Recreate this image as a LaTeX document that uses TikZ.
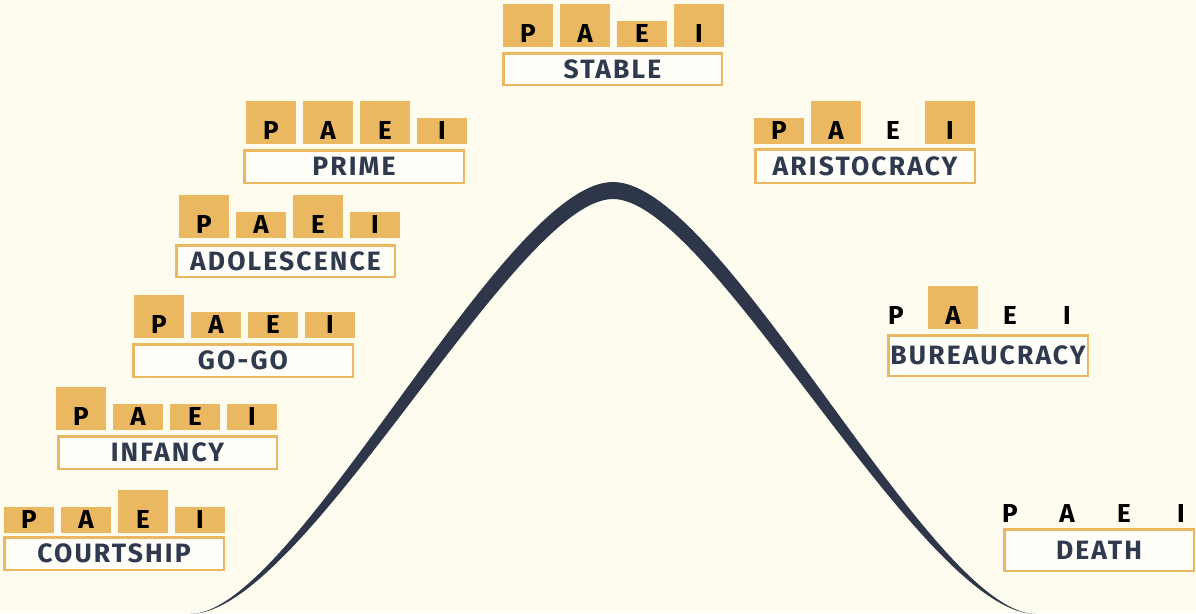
\documentclass[tikz,border=0pt]{standalone}
\usepackage{fontspec}
\setmainfont{Fira Sans}
\newfontfamily\namefont{Fira Sans}[LetterSpace=8]
\newfontfamily\paeifont{Fira Sans}
\definecolor{bgc}{HTML}{FEFCEF}
\definecolor{boxc}{HTML}{EBB862}
\definecolor{namefill}{HTML}{FFFEF8}
\definecolor{curvec}{HTML}{2E3749}
\definecolor{namec}{HTML}{303A4E}
\tikzset{
  lbox/.style={fill=boxc, draw=none, inner sep=0pt, minimum width=50pt},
  ltr/.style={inner sep=0pt, anchor=base, font=\paeifont\bfseries\fontsize{26}{26}\selectfont, text=black},
  namebox/.style={draw=boxc, line width=2.5pt, fill=namefill, inner sep=0pt,
    font=\namefont\bfseries\fontsize{26.5}{26.5}\selectfont, text=namec},
  curvefill/.style={fill=curvec, draw=none}
}
% one letter: id, x-left, yb, height (0 = no box), letter
\newcommand\onelet[5]{%
  \ifdim#4pt>0pt
    \node[lbox, minimum height=#4pt, anchor=south west] (#1-box) at (#2,#3) {};
  \fi
  \node[ltr] (#1-txt) at (#2+25,#3-5) {#5};
}
% id, x0, yb, hP, hA, hE, hI
\newcommand\paeirow[7]{%
  \onelet{#1-P}{#2}{#3}{#4}{P}
  \onelet{#1-A}{#2+57}{#3}{#5}{A}
  \onelet{#1-E}{#2+114}{#3}{#6}{E}
  \onelet{#1-I}{#2+171}{#3}{#7}{I}
}
% id, x1, y1, x2, y2, text
\newcommand\stagebox[6]{%
  \pgfmathsetmacro\sbw{#4-#2-2.5}
  \pgfmathsetmacro\sbh{#5-#3-2.5}
  \node[namebox, minimum width=\sbw pt, minimum height=\sbh pt] (#1) at ({(#2+#4)/2},{(#3+#5)/2}) {#6};
}
\begin{document}
\begin{tikzpicture}[x=1pt,y=-1pt]
\useasboundingbox (0,0) rectangle (1196,613);
\fill[bgc] (0,0) rectangle (1196,613);

% lifecycle curve
\fill[curvefill] (190,614) .. controls (295,614) and (503,182) .. (613,182)
   .. controls (723,182) and (931,614) .. (1036,614)
   .. controls (922,614) and (711,199) .. (613,199)
   .. controls (515,199) and (304,614) .. (190,614) -- cycle;

% Courtship
\paeirow{court}{4}{533}{26}{26}{43}{26}
\stagebox{courtship}{3}{536}{225}{571}{COURTSHIP}
% Infancy
\paeirow{inf}{56}{430}{43}{26}{26}{26}
\stagebox{infancy}{57}{435}{278}{470}{INFANCY}
% Go-go
\paeirow{gogo}{134}{338}{43}{26}{26}{26}
\stagebox{gogobox}{132}{343}{354}{378}{GO-GO}
% Adolescence
\paeirow{adol}{179}{238}{43}{26}{43}{26}
\stagebox{adolescence}{175}{244}{396}{278}{ADOLESCENCE}
% Prime
\paeirow{prime}{246}{144}{43}{43}{43}{26}
\stagebox{primebox}{243}{149}{465}{184}{PRIME}
% Stable
\paeirow{stab}{503}{47}{43}{43}{26}{43}
\stagebox{stable}{502}{52}{723}{86}{STABLE}
% Aristocracy
\paeirow{aris}{754}{144}{26}{43}{0}{43}
\stagebox{aristocracy}{754}{148}{976}{184}{ARISTOCRACY}
% Bureaucracy
\paeirow{bur}{871}{329}{0}{43}{0}{0}
\stagebox{bureaucracy}{887}{334}{1089}{377}{BUREAUCRACY}
% Death
\paeirow{death}{985}{527}{0}{0}{0}{0}
\stagebox{deathbox}{1003}{528}{1195}{572}{DEATH}
\end{tikzpicture}
\end{document}
